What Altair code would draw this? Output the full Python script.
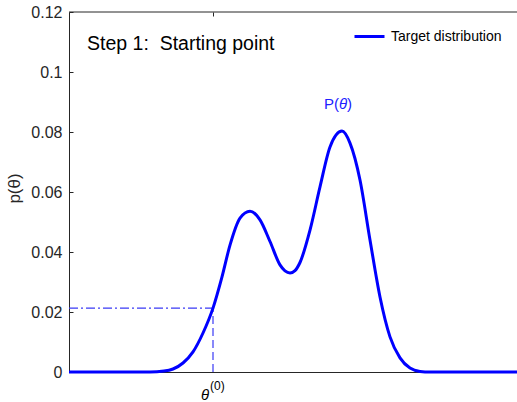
import altair as alt
import pandas as pd

# ---- data ----
theta = [0, 81, 95, 104, 114, 124, 134, 144, 153, 161, 171, 181, 191, 201, 211, 216,
         221, 226, 231, 241, 251, 261, 273, 281, 291, 301, 311, 321, 331, 341, 351, 361, 448]
density = [0, 0, 0.0003, 0.001, 0.003, 0.0067, 0.013, 0.0213, 0.0317, 0.0423, 0.0513,
           0.0536, 0.0507, 0.0435, 0.0357, 0.0337, 0.033, 0.0338, 0.0365, 0.0473, 0.0617,
           0.075, 0.0803, 0.0763, 0.064, 0.044, 0.025, 0.0117, 0.0047, 0.0013, 0.0002, 0, 0]
series_name = "Target distribution"
y_ticks = [0, 0.02, 0.04, 0.06, 0.08, 0.1, 0.12]
x_range = [0, 448]
y_range = [0, 0.12]
theta0 = 144
p_theta0 = 0.0213

FONT = "Liberation Sans"
BLUE = "#0000ff"
DASH = "#3a3af5"
AXC = "#262626"

curve_df = pd.DataFrame({"theta": theta, "p": density, "series": series_name})

xs = alt.Scale(domain=x_range, nice=False, zero=False)
ys = alt.Scale(domain=y_range, nice=False)

# invisible layer carrying inward tick marks (MATLAB style)
tick_layer = alt.Chart(curve_df).mark_line(opacity=0).encode(
    x=alt.X("theta:Q", scale=xs, axis=alt.Axis(orient="top", offset=-4, tickSize=4, values=[theta0],
                                               labels=False, domain=False, grid=False, title=None,
                                               tickColor=AXC)),
    y=alt.Y("p:Q", scale=ys, axis=alt.Axis(orient="left", offset=-4, tickSize=4, values=y_ticks,
                                           labels=False, domain=False, grid=False, title=None,
                                           tickColor=AXC)),
)

border_df = pd.DataFrame({"x0": [x_range[0]], "x1": [x_range[1]], "y": [y_range[1]]})
top_border = alt.Chart(border_df).mark_rule(color=AXC, strokeWidth=1).encode(
    x=alt.X("x0:Q", scale=xs, axis=None), x2="x1", y=alt.Y("y:Q", scale=ys, axis=None))

h_df = pd.DataFrame({"x0": [x_range[0]], "x1": [theta0], "y": [p_theta0]})
hline = alt.Chart(h_df).mark_rule(color=DASH, strokeWidth=1.2, strokeDash=[9, 3, 2, 3]).encode(
    x=alt.X("x0:Q", scale=xs, axis=None), x2="x1", y=alt.Y("y:Q", scale=ys, axis=None))

v_df = pd.DataFrame({"x": [theta0], "y0": [0], "y1": [p_theta0]})
vline = alt.Chart(v_df).mark_rule(color=DASH, strokeWidth=1.2, strokeDash=[8, 4]).encode(
    x=alt.X("x:Q", scale=xs, axis=None), y=alt.Y("y0:Q", scale=ys, axis=None), y2="y1")

curve = alt.Chart(curve_df).mark_line(strokeWidth=3, interpolate="monotone").encode(
    x=alt.X("theta:Q", scale=xs, axis=alt.Axis(orient="bottom", title=None, labels=False, ticks=False,
                                               grid=False, domainColor=AXC, domainWidth=1)),
    y=alt.Y("p:Q", scale=ys, axis=alt.Axis(orient="left", title="p(θ)", values=y_ticks, format=".2~f",
                                           ticks=False, grid=False, domainColor=AXC, domainWidth=1,
                                           labelFont=FONT, labelFontSize=16, labelColor=AXC,
                                           labelPadding=7, titleFont=FONT, titleFontSize=17,
                                           titleFontWeight="normal", titleColor=AXC,
                                           titleX=-55, titleY=176, titleAngle=-90,
                                           titleAlign="center", titleBaseline="middle")),
    color=alt.Color("series:N", scale=alt.Scale(range=[BLUE]),
                    legend=alt.Legend(orient="none", legendX=284, legendY=8, title=None,
                                      symbolType="stroke", symbolStrokeWidth=3, symbolSize=900,
                                      labelFont=FONT, labelFontSize=14, labelColor="black",
                                      labelOffset=5, padding=0)),
)


def txt(text, x, y, size, color="black", italic=False, align="left", baseline="middle", dx=0):
    df = pd.DataFrame({"x": [x], "y": [y], "t": [text]})
    return alt.Chart(df).mark_text(font=FONT, fontSize=size, color=color, align=align,
                                   baseline=baseline, dx=dx,
                                   fontStyle="italic" if italic else "normal").encode(
        x=alt.X("x:Q", scale=xs, axis=None), y=alt.Y("y:Q", scale=ys, axis=None), text="t:N")


texts = [
    txt("Step 1:\u00a0 Starting point", 18, 0.1093, 19.5),
    txt("P(", 274, 0.0893, 15, color="#2020ff", align="right", dx=-4),
    txt("θ", 274, 0.0893, 15, color="#2020ff", italic=True, align="center"),
    txt(")", 274, 0.0893, 15, color="#2020ff", align="left", dx=4),
    txt("θ", 136, -0.0077, 15, italic=True, align="center"),
    txt("(0)", 141, -0.0048, 12, align="left"),
]

chart = alt.layer(tick_layer, top_border, hline, vline, curve, *texts).resolve_axis(
    x="independent", y="independent"
).properties(
    width=448, height=360,
    padding={"left": 69, "top": 12, "right": 0, "bottom": 30},
    autosize=alt.AutoSizeParams(type="none"),
    background="white",
).configure_view(stroke=None)

chart.save("out.html", embed_options={"renderer": "svg", "actions": False})
